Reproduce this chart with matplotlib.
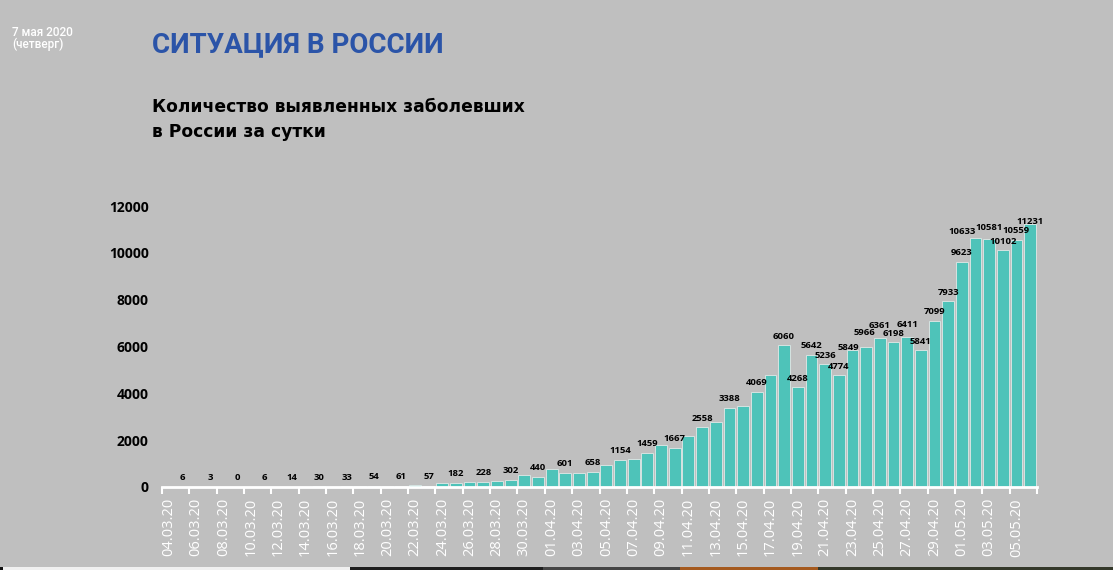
import matplotlib
matplotlib.use('Agg')
import matplotlib.pyplot as plt
from matplotlib.patches import Rectangle
import numpy as np
import datetime as dt

# данные: новые случаи за сутки, 04.03.20 - 06.05.20
start = dt.date(2020, 3, 4)
cases = [1, 6, 4, 3, 0, 0, 3, 6, 11, 14,
         4, 30, 21, 33, 52, 54, 53, 61, 71, 57,
         163, 182, 196, 228, 270, 302, 501, 440, 771, 601,
         582, 658, 954, 1154, 1175, 1459, 1786, 1667, 2186, 2558,
         2774, 3388, 3448, 4069, 4785, 6060, 4268, 5642, 5236, 4774,
         5849, 5966, 6361, 6198, 6411, 5841, 7099, 7933, 9623, 10633,
         10581, 10102, 10559, 11231]
dates = [(start + dt.timedelta(days=i)).strftime('%d.%m.%y') for i in range(len(cases))]
yticks = [0, 2000, 4000, 6000, 8000, 10000, 12000]

bg = '#bfbfbf'
teal = '#4ec3b9'

fig = plt.figure(figsize=(11.13, 5.70), dpi=100, facecolor=bg)
ax = fig.add_axes([162/1113, 83/570, 875/1113, 281/570], facecolor=bg)

x = np.arange(len(cases))
ax.bar(x, cases, width=0.86, color=teal, edgecolor='#d6e4e2', linewidth=0.7)

# подписи значений (сдвиги в пикселях, чтобы не налезали друг на друга)
labeled = list(range(1, 45, 2)) + list(range(45, len(cases)))
shift_x = {50: -4, 51: -2, 59: -13}
shift_y = {50: -6, 51: 6, 52: 4, 53: -1, 54: 3, 59: -2, 60: 3, 63: -6}
px = 72 / 100
for i in labeled:
    dx = shift_x.get(i, 0) * px
    dy = (9 + shift_y.get(i, 0)) * px
    ax.annotate(str(cases[i]), (x[i], cases[i]), xytext=(dx, dy),
                textcoords='offset points', ha='center', va='center',
                fontsize=6.8, fontweight='bold', color='black',
                family='Open Sans', annotation_clip=False)

ax.set_xlim(-0.5, len(cases) - 0.5)
ax.set_ylim(0, 12000)

ax.set_xticks(x[::2])
ax.set_xticklabels(dates[::2], rotation=90, color='white', fontsize=10.5,
                   family='Open Sans')
ax.tick_params(axis='x', which='major', length=0, pad=8)
ax.set_xticks(np.append(x[::2] - 0.5, len(cases) - 0.5), minor=True)
ax.tick_params(axis='x', which='minor', length=5, width=1.5, color='white')

ax.set_yticks(yticks)
ax.set_yticklabels([str(v) for v in yticks], fontsize=10, fontweight='bold',
                   family='Open Sans')
ax.tick_params(axis='y', length=0, pad=9.5)

for s in ['top', 'right', 'left']:
    ax.spines[s].set_visible(False)
ax.spines['bottom'].set_color('white')
ax.spines['bottom'].set_linewidth(2)

# заголовки
fig.text(152/1113, 1 - 52/570, 'СИТУАЦИЯ В РОССИИ', color='#2b54a8',
         fontsize=20, fontweight='bold', family='Roboto', va='baseline')
fig.text(152/1113, 1 - 112/570, 'Количество выявленных заболевших',
         color='black', fontsize=12.3, fontweight='bold', family='DejaVu Sans',
         va='baseline')
fig.text(152/1113, 1 - 137/570, 'в России за сутки',
         color='black', fontsize=12.3, fontweight='bold', family='DejaVu Sans',
         va='baseline')
fig.text(12/1113, 1 - 36/570, '7 мая 2020', color='white', fontsize=8.5,
         fontweight='medium', family='Roboto', va='baseline')
fig.text(12/1113, 1 - 48/570, '(четверг)', color='white', fontsize=8.5,
         fontweight='medium', family='Roboto', va='baseline')

# полоса внизу слайда
strip = [(0, 3, '#111111'), (3, 350, '#f0f0f0'), (350, 543, '#1e1e1e'),
         (543, 680, '#454545'), (680, 818, '#a55a1f'), (818, 1113, '#34382a')]
for x0, x1, c in strip:
    fig.add_artist(Rectangle((x0/1113, 0), (x1 - x0)/1113, 3/570,
                             transform=fig.transFigure, color=c, lw=0))

fig.savefig('out.png', dpi=100, facecolor=bg)
